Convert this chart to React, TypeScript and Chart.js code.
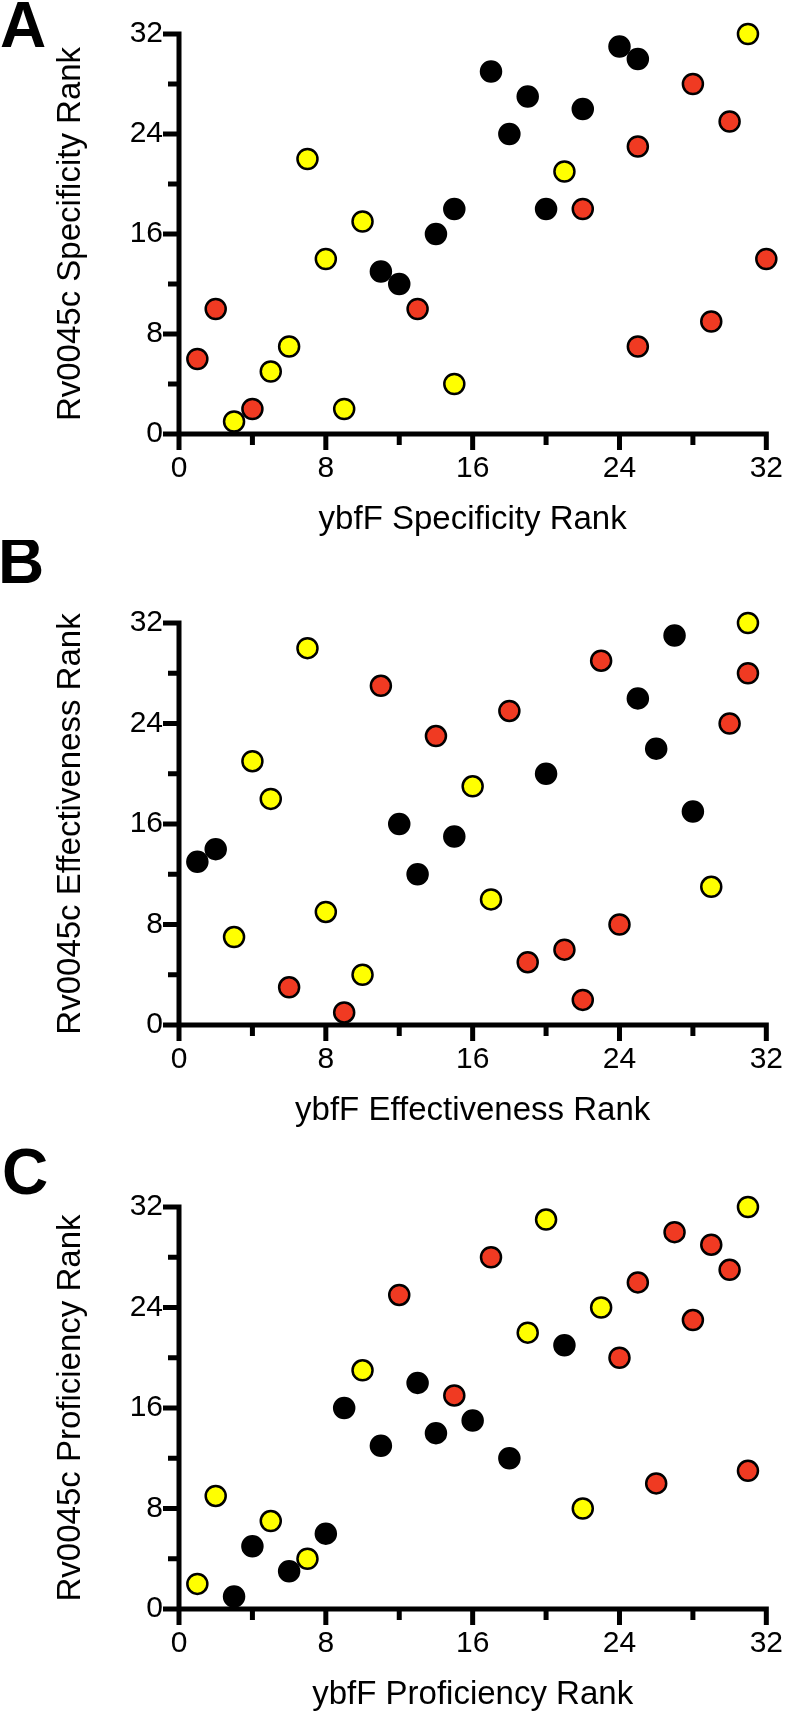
import React, { useEffect, useRef } from 'react';
import { Chart, registerables } from 'chart.js';

Chart.register(...registerables);

// ---- tick values ----
const TICK_VALUES = [0, 8, 16, 24, 32];
const MINOR_TICKS = [4, 12, 20, 28];

// ---- Panel A: Specificity rank (x = ybfF, y = Rv0045c) ----
const A_RED: [number, number][] = [[28, 28], [30, 25], [25, 23], [22, 18], [32, 14], [2, 10], [13, 10], [29, 9], [25, 7], [1, 6], [4, 2]];
const A_YELLOW: [number, number][] = [[31, 32], [7, 22], [21, 21], [10, 17], [8, 14], [6, 7], [5, 5], [15, 4], [9, 2], [3, 1]];
const A_BLACK: [number, number][] = [[24, 31], [25, 30], [17, 29], [19, 27], [22, 26], [18, 24], [15, 18], [20, 18], [14, 16], [11, 13], [12, 12]];

// ---- Panel B: Effectiveness rank ----
const B_RED: [number, number][] = [[31, 28], [23, 29], [11, 27], [18, 25], [14, 23], [30, 24], [24, 8], [21, 6], [19, 5], [6, 3], [22, 2], [9, 1]];
const B_YELLOW: [number, number][] = [[31, 32], [7, 30], [4, 21], [5, 18], [16, 19], [17, 10], [29, 11], [8, 9], [3, 7], [10, 4]];
const B_BLACK: [number, number][] = [[27, 31], [25, 26], [26, 22], [20, 20], [28, 17], [12, 16], [15, 15], [2, 14], [1, 13], [13, 12]];

// ---- Panel C: Proficiency rank ----
const C_RED: [number, number][] = [[27, 30], [29, 29], [17, 28], [30, 27], [25, 26], [12, 25], [28, 23], [24, 20], [15, 17], [31, 11], [26, 10]];
const C_YELLOW: [number, number][] = [[31, 32], [20, 31], [23, 24], [19, 22], [10, 19], [2, 9], [22, 8], [5, 7], [7, 4], [1, 2]];
const C_BLACK: [number, number][] = [[21, 21], [13, 18], [9, 16], [16, 15], [14, 14], [11, 13], [18, 12], [8, 6], [4, 5], [6, 3], [3, 1]];

const FONT = "'Liberation Sans', Arial, Helvetica, sans-serif";
const RED = '#F03A22';
const YELLOW = '#FFFF00';
const BLACK = '#000000';

type PanelCfg = {
  letter: string;
  xTitle: string;
  yTitle: string;
  top: number;
  height: number;
  areaTop: number;
  areaBottom: number;
  xTitlePad: number;
  letterX: number;
  letterY: number;
  red: [number, number][];
  yellow: [number, number][];
  black: [number, number][];
};

const PANELS: PanelCfg[] = [
  {
    letter: 'A', xTitle: 'ybfF Specificity Rank', yTitle: 'Rv0045c Specificity Rank',
    top: 0, height: 540, areaTop: 31, areaBottom: 434, xTitlePad: 0, letterX: 0, letterY: 47,
    red: A_RED, yellow: A_YELLOW, black: A_BLACK,
  },
  {
    letter: 'B', xTitle: 'ybfF Effectiveness Rank', yTitle: 'Rv0045c Effectiveness Rank',
    top: 540, height: 595, areaTop: 83, areaBottom: 485, xTitlePad: 4, letterX: -2, letterY: 43,
    red: B_RED, yellow: B_YELLOW, black: B_BLACK,
  },
  {
    letter: 'C', xTitle: 'ybfF Proficiency Rank', yTitle: 'Rv0045c Proficiency Rank',
    top: 1135, height: 580, areaTop: 72, areaBottom: 474, xTitlePad: 0, letterX: 2, letterY: 59,
    red: C_RED, yellow: C_YELLOW, black: C_BLACK,
  },
];

const AXIS_W = 5;
const MAJOR_LEN = 16;
const MINOR_LEN = 11;
const TICK_FONT = 30;
const TITLE_FONT = 33;

const axesPlugin = {
  id: 'gpAxes',
  beforeDatasetsDraw(chart: any) {
    const { ctx } = chart;
    const xs = chart.scales.x;
    const ys = chart.scales.y;
    const x0 = xs.getPixelForValue(0);
    const y0 = ys.getPixelForValue(0);
    const xMax = xs.getPixelForValue(32);
    const yMax = ys.getPixelForValue(32);
    ctx.save();
    ctx.strokeStyle = '#000';
    ctx.lineWidth = AXIS_W;
    ctx.lineCap = 'butt';
    ctx.beginPath();
    ctx.moveTo(x0, yMax - AXIS_W / 2);
    ctx.lineTo(x0, y0 + AXIS_W / 2);
    ctx.moveTo(x0 - AXIS_W / 2, y0);
    ctx.lineTo(xMax + AXIS_W / 2, y0);
    TICK_VALUES.forEach((v) => {
      const px = xs.getPixelForValue(v);
      ctx.moveTo(px, y0);
      ctx.lineTo(px, y0 + MAJOR_LEN);
      const py = ys.getPixelForValue(v);
      ctx.moveTo(x0, py);
      ctx.lineTo(x0 - MAJOR_LEN, py);
    });
    MINOR_TICKS.forEach((v) => {
      const px = xs.getPixelForValue(v);
      ctx.moveTo(px, y0);
      ctx.lineTo(px, y0 + MINOR_LEN);
      const py = ys.getPixelForValue(v);
      ctx.moveTo(x0, py);
      ctx.lineTo(x0 - MINOR_LEN, py);
    });
    ctx.stroke();
    ctx.restore();
  },
  afterDraw(chart: any, _args: any, opts: any) {
    if (!opts || !opts.letter) return;
    const { ctx } = chart;
    ctx.save();
    ctx.fillStyle = '#000';
    ctx.font = `bold 64px ${FONT}`;
    ctx.textAlign = 'left';
    ctx.textBaseline = 'alphabetic';
    ctx.fillText(opts.letter, opts.x, opts.y);
    ctx.restore();
  },
};

function toPoints(arr: [number, number][]) {
  return arr.map(([x, y]) => ({ x, y }));
}

function makeDataset(label: string, arr: [number, number][], color: string) {
  return {
    label,
    data: toPoints(arr),
    backgroundColor: color,
    borderColor: BLACK,
    borderWidth: 2.5,
    pointRadius: 10,
    pointHoverRadius: 10,
    clip: false as any,
  };
}

function buildConfig(cfg: PanelCfg): any {
  const scaleTicks = (s: any) => {
    s.ticks = TICK_VALUES.map((v) => ({ value: v }));
  };
  return {
    type: 'scatter',
    data: {
      datasets: [
        makeDataset('red', cfg.red, RED),
        makeDataset('yellow', cfg.yellow, YELLOW),
        makeDataset('black', cfg.black, BLACK),
      ],
    },
    plugins: [axesPlugin],
    options: {
      animation: false,
      responsive: false,
      devicePixelRatio: 1,
      events: [],
      layout: { padding: { left: 0, right: 17, top: cfg.areaTop, bottom: 0 } },
      plugins: {
        legend: { display: false },
        tooltip: { enabled: false },
        gpAxes: { letter: cfg.letter, x: cfg.letterX, y: cfg.letterY },
      },
      scales: {
        x: {
          type: 'linear',
          position: 'bottom',
          min: 0,
          max: 32,
          afterBuildTicks: scaleTicks,
          afterFit: (s: any) => {
            s.height = cfg.height - cfg.areaBottom;
          },
          grid: { display: false, drawTicks: false },
          border: { display: false },
          ticks: { padding: 17, font: { family: FONT, size: TICK_FONT }, color: '#000', maxRotation: 0, autoSkip: false },
          title: {
            display: true,
            text: cfg.xTitle,
            font: { family: FONT, size: TITLE_FONT },
            color: '#000',
            padding: { top: 0, bottom: cfg.xTitlePad },
          },
        },
        y: {
          type: 'linear',
          position: 'left',
          min: 0,
          max: 32,
          afterBuildTicks: scaleTicks,
          afterFit: (s: any) => {
            s.width = 179;
          },
          grid: { display: false, drawTicks: false },
          border: { display: false },
          ticks: { padding: 16, font: { family: FONT, size: TICK_FONT }, color: '#000', autoSkip: false },
          title: {
            display: true,
            text: cfg.yTitle,
            font: { family: FONT, size: TITLE_FONT },
            color: '#000',
            padding: { top: 51, bottom: 0 },
          },
        },
      },
    },
  };
}

function Panel({ cfg }: { cfg: PanelCfg }) {
  const ref = useRef<HTMLCanvasElement | null>(null);
  useEffect(() => {
    if (!ref.current) return;
    const chart = new Chart(ref.current, buildConfig(cfg));
    return () => chart.destroy();
  }, [cfg]);
  return (
    <canvas
      ref={ref}
      width={800}
      height={cfg.height}
      style={{ position: 'absolute', left: 0, top: cfg.top, width: 800, height: cfg.height, display: 'block' }}
    />
  );
}

export default function App() {
  return (
    <div style={{ position: 'absolute', left: 0, top: 0, width: 800, height: 1715, background: '#ffffff', overflow: 'hidden' }}>
      {PANELS.map((p) => (
        <Panel key={p.letter} cfg={p} />
      ))}
    </div>
  );
}
